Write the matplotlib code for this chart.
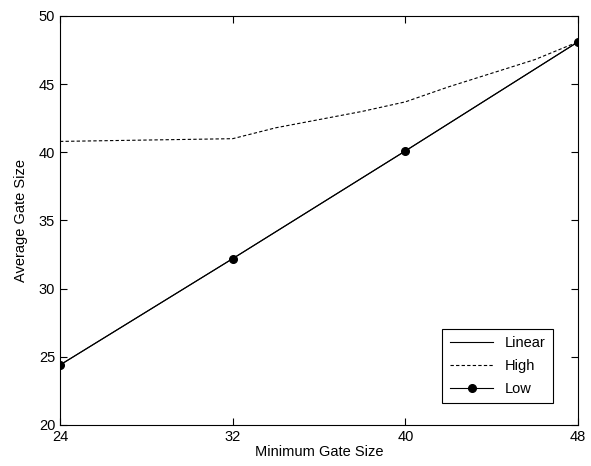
import matplotlib.pyplot as plt

# gate sizes
min_gate = [24, 32, 40, 48]
linear_avg = [24.4, 32.2, 40.1, 48.1]
low_avg = [24.4, 32.2, 40.1, 48.1]

high_x = [24, 28, 32, 34, 36, 38, 40, 42, 44, 46, 48]
high_avg = [40.8, 40.9, 41.0, 41.8, 42.4, 43.0, 43.7, 44.8, 45.8, 46.8, 48.1]

plt.rcParams['font.family'] = ['Liberation Sans', 'DejaVu Sans']

fig = plt.figure(figsize=(5.91, 4.66), dpi=100)
ax = fig.add_axes([0.1015, 0.088, 0.8765, 0.8777])

ax.plot(min_gate, linear_avg, '-', color='black', linewidth=0.8, label='Linear')
ax.plot(high_x, high_avg, '--', color='black', linewidth=0.8, dashes=(3, 2), label='High')
ax.plot(min_gate, low_avg, '-', color='black', linewidth=0.8, marker='o', markersize=5.5, label='Low')

ax.set_xlim(24, 48)
ax.set_ylim(20, 50)
ax.set_xticks(min_gate)
ax.set_yticks([20, 25, 30, 35, 40, 45, 50])
ax.tick_params(direction='in', top=True, right=True, labelsize=10.5, length=5)
for s in ax.spines.values():
    s.set_linewidth(0.8)

ax.set_xlabel('Minimum Gate Size', fontsize=10.5, labelpad=1)
ax.set_ylabel('Average Gate Size', fontsize=10.5, labelpad=8)

leg = ax.legend(loc='lower right', bbox_to_anchor=(0.952, 0.054), fancybox=False,
                edgecolor='black', framealpha=1, fontsize=10.5, handlelength=3.0,
                labelspacing=0.6, borderpad=0.5, borderaxespad=0)
leg.get_frame().set_linewidth(0.8)

plt.savefig('out.png')
